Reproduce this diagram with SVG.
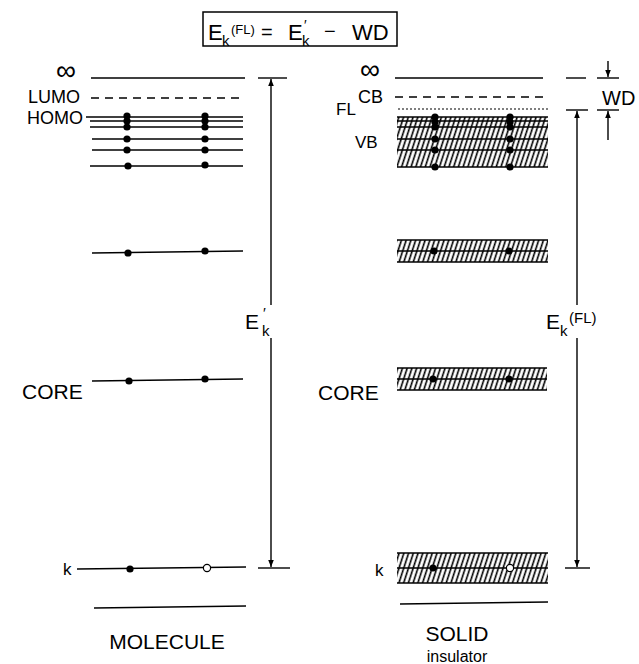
<svg xmlns="http://www.w3.org/2000/svg" width="639" height="664" viewBox="0 0 639 664">
<defs>
<pattern id="hatch" patternUnits="userSpaceOnUse" width="4.5" height="10" patternTransform="rotate(18)">
<line x1="1.5" y1="0" x2="1.5" y2="10" stroke="#000" stroke-width="1.6"/>
</pattern>
<marker id="ah" viewBox="0 0 10 10" refX="10" refY="5" markerWidth="7" markerHeight="7" orient="auto-start-reverse" markerUnits="userSpaceOnUse">
<path d="M0,1 L10,5 L0,9 Z" fill="#000"/>
</marker>
</defs>
<style>
.t{font-family:"Liberation Sans","DejaVu Sans",sans-serif;fill:#000}
.l{stroke:#000;stroke-width:1.4;fill:none}
.d{fill:#000}
.o{fill:#fff;stroke:#000;stroke-width:1.2}
.dash{stroke:#000;stroke-width:1.5;stroke-dasharray:8,6;fill:none}
.dot{stroke:#000;stroke-width:1.2;stroke-dasharray:2,2;fill:none}
.band{fill:url(#hatch)}
</style>
<rect width="639" height="664" fill="#fff"/>

<g id="title">
<rect x="203" y="12" width="194" height="34" fill="none" stroke="#000" stroke-width="1.5"/>
<text class="t" x="208" y="40" font-size="22">E</text>
<text class="t" x="222" y="46" font-size="15">k</text>
<text class="t" x="231" y="34" font-size="13">(FL)</text>
<text class="t" x="261" y="39" font-size="20">=</text>
<text class="t" x="288" y="40" font-size="22">E</text>
<text class="t" x="304" y="30" font-size="14">′</text>
<text class="t" x="302" y="46" font-size="15">k</text>
<text class="t" x="324" y="38" font-size="20">−</text>
<text class="t" x="352" y="40" font-size="22">WD</text>
</g>

<g id="molecule">
<text class="t" x="56" y="80" font-size="28">∞</text>
<line class="l" x1="91" y1="78" x2="245" y2="78"/>
<text class="t" x="28" y="103" font-size="18">LUMO</text>
<line class="dash" x1="91" y1="98" x2="245" y2="98"/>
<text class="t" x="27" y="124" font-size="18">HOMO</text>
<line class="l" x1="86" y1="117" x2="243" y2="117"/>
<line class="l" x1="90" y1="121" x2="243" y2="121"/>
<line class="l" x1="90" y1="127" x2="243" y2="127"/>
<line class="l" x1="92" y1="139" x2="243" y2="139"/>
<line class="l" x1="92" y1="150" x2="243" y2="150"/>
<line class="l" x1="90" y1="166" x2="243" y2="166"/>
<g class="d">
<circle cx="127" cy="116" r="3.6"/><circle cx="127" cy="121" r="3.6"/><circle cx="127" cy="127" r="3.6"/><circle cx="127" cy="139" r="3.6"/><circle cx="127" cy="150" r="3.6"/><circle cx="128" cy="166" r="3.6"/>
<circle cx="205" cy="116" r="3.6"/><circle cx="205" cy="121" r="3.6"/><circle cx="205" cy="127" r="3.6"/><circle cx="205" cy="139" r="3.6"/><circle cx="205" cy="150" r="3.6"/><circle cx="205" cy="165" r="3.6"/>
</g>
<line class="l" x1="92" y1="253" x2="243" y2="251"/>
<circle class="d" cx="128" cy="253" r="3.6"/><circle class="d" cx="205" cy="251" r="3.6"/>
<text class="t" x="22" y="399" font-size="21">CORE</text>
<line class="l" x1="92" y1="381" x2="243" y2="379"/>
<circle class="d" cx="129" cy="381" r="3.6"/><circle class="d" cx="205" cy="379" r="3.6"/>
<text class="t" x="63" y="575" font-size="17">k</text>
<line class="l" x1="77" y1="569" x2="246" y2="567"/>
<circle class="d" cx="130" cy="569" r="3.6"/><circle class="o" cx="207" cy="568" r="3.6"/>
<line class="l" x1="94" y1="608" x2="246" y2="606"/>
<text class="t" x="167" y="649" font-size="21" text-anchor="middle">MOLECULE</text>
</g>

<g id="solid">
<text class="t" x="360" y="79" font-size="28">∞</text>
<line class="l" x1="395" y1="78" x2="543" y2="78"/>
<text class="t" x="358" y="103" font-size="18">CB</text>
<text class="t" x="336" y="115" font-size="17">FL</text>
<line class="dash" x1="395" y1="97" x2="545" y2="97"/>
<line class="dot" x1="398" y1="109" x2="548" y2="109"/>
<text class="t" x="355" y="148" font-size="17">VB</text>
<rect class="band" x="397" y="117" width="151" height="50"/>
<line class="l" x1="397" y1="117" x2="548" y2="117"/>
<line class="l" x1="397" y1="121" x2="548" y2="121"/>
<line class="l" x1="397" y1="127" x2="548" y2="127"/>
<line class="l" x1="397" y1="139" x2="548" y2="139"/>
<line class="l" x1="397" y1="150" x2="548" y2="150"/>
<line class="l" x1="397" y1="167" x2="548" y2="167"/>
<g class="d">
<circle cx="435" cy="117" r="3.6"/><circle cx="435" cy="122" r="3.6"/><circle cx="435" cy="127" r="3.6"/><circle cx="435" cy="139" r="3.6"/><circle cx="435" cy="150" r="3.6"/><circle cx="435" cy="167" r="3.6"/>
<circle cx="510" cy="117" r="3.6"/><circle cx="510" cy="122" r="3.6"/><circle cx="510" cy="127" r="3.6"/><circle cx="510" cy="139" r="3.6"/><circle cx="510" cy="150" r="3.6"/><circle cx="510" cy="167" r="3.6"/>
</g>
<rect class="band" x="397" y="240" width="151" height="22"/>
<line class="l" x1="397" y1="240" x2="548" y2="240"/>
<line class="l" x1="397" y1="251" x2="548" y2="251"/>
<line class="l" x1="397" y1="262" x2="548" y2="262"/>
<circle class="d" cx="434" cy="251" r="3.6"/><circle class="d" cx="509" cy="251" r="3.6"/>
<text class="t" x="318" y="400" font-size="21">CORE</text>
<rect class="band" x="397" y="368" width="150" height="22"/>
<line class="l" x1="397" y1="368" x2="547" y2="368"/>
<line class="l" x1="397" y1="379" x2="547" y2="379"/>
<line class="l" x1="397" y1="390" x2="547" y2="390"/>
<circle class="d" cx="433" cy="379" r="3.6"/><circle class="d" cx="509" cy="379" r="3.6"/>
<text class="t" x="375" y="576" font-size="17">k</text>
<rect class="band" x="397" y="553" width="151" height="30"/>
<line class="l" x1="397" y1="553" x2="548" y2="553"/>
<line class="l" x1="397" y1="568" x2="548" y2="568"/>
<line class="l" x1="397" y1="583" x2="548" y2="583"/>
<circle class="d" cx="433" cy="568" r="3.6"/><circle class="o" cx="510" cy="568" r="3.6"/>
<line class="l" x1="400" y1="604" x2="548" y2="602"/>
<text class="t" x="457" y="641" font-size="21" text-anchor="middle">SOLID</text>
<text class="t" x="457" y="662" font-size="16" text-anchor="middle">insulator</text>
</g>

<g id="labels">
<text class="t" x="245" y="329" font-size="21">E</text>
<text class="t" x="263" y="318" font-size="15">′</text>
<text class="t" x="262" y="336" font-size="15">k</text>
<text class="t" x="546" y="329" font-size="21">E</text>
<text class="t" x="560" y="336" font-size="15">k</text>
<text class="t" x="569" y="323" font-size="15">(FL)</text>
<text class="t" x="602" y="105" font-size="20">WD</text>
</g>

<g id="connectors">
<line class="l" x1="258" y1="78" x2="287" y2="78"/>
<line class="l" x1="258" y1="568" x2="290" y2="568"/>
<line class="l" x1="271" y1="305" x2="271" y2="79" marker-end="url(#ah)"/>
<line class="l" x1="271" y1="338" x2="271" y2="567" marker-end="url(#ah)"/>
<line class="l" x1="566" y1="110" x2="588" y2="110"/>
<line class="l" x1="565" y1="568" x2="590" y2="568"/>
<line class="l" x1="577" y1="305" x2="577" y2="111" marker-end="url(#ah)"/>
<line class="l" x1="577" y1="338" x2="577" y2="567" marker-end="url(#ah)"/>
<line class="l" x1="566" y1="78" x2="586" y2="78"/>
<line class="l" x1="597" y1="78" x2="619" y2="78"/>
<line class="l" x1="597" y1="110" x2="619" y2="110"/>
<line class="l" x1="608" y1="61" x2="608" y2="77" marker-end="url(#ah)"/>
<line class="l" x1="608" y1="140" x2="608" y2="111" marker-end="url(#ah)"/>
</g>
</svg>
